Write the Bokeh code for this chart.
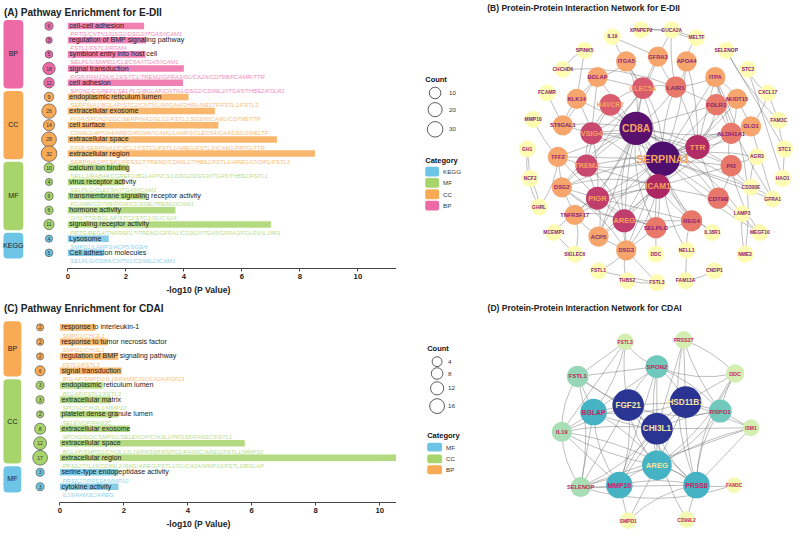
import numpy as np
from bokeh.plotting import figure
from bokeh.models import ColumnDataSource, Range1d, Label, LinearColorMapper, FixedTicker
from bokeh.layouts import row, column
from bokeh.embed import file_html
from bokeh.resources import INLINE
from bokeh.core.properties import value

FONT = "Liberation Sans"
S = 0.988          # reference px -> page px
SY = 531 / 539     # vertical scale

# ================= Panel A data (E-DII enrichment) =================
a_terms = ["cell-cell adhesion", "regulation of BMP signaling pathway", "symbiont entry into host cell",
           "signal transduction", "cell adhesion",
           "endoplasmic reticulum lumen", "extracellular exosome", "cell surface",
           "extracellular space", "extracellular region",
           "calcium ion binding", "virus receptor activity", "transmembrane signaling receptor activity",
           "hormone activity", "signaling receptor activity",
           "Lysosome", "Cell adhesion molecules"]
a_cats = ["BP"] * 5 + ["CC"] * 5 + ["MF"] * 5 + ["KEGG"] * 2
a_logp = [2.63, 2.70, 2.68, 4.00, 3.97, 4.16, 5.07, 5.19, 7.21, 8.52,
          2.09, 1.95, 2.72, 3.71, 7.00, 1.41, 1.24]
a_counts = [6, 3, 5, 18, 12, 9, 26, 14, 28, 32, 10, 4, 6, 6, 11, 4, 5]
a_genes = ["PRTG/CNTN1/DSG2/DSG3/ITGA5/ICAM1",
           "FSTL1/FSTL3/RGMA",
           "SELPLG/SMPD1/CLEC5A/ITGA5/ICAM1",
           "PIGR/FAM13A/IL19/STC1/TREM2/GFRA3/GUCA2A/CD79B/FCAMR/TTR",
           "SPON2/CGREF1/SELPLG/BGLAP/CNTN1/DSG2/CD99L2/ITGA5/THBS2/FOLR1",
           "SERPINA1/BGLAP/STC2/CNTN1/APOA4/GHRL/MELTF/FSTL1/FSTL3",
           "PIGR/SPON2/DDC/SERPINA1/GLO1/FSTL1/SGSH/ICAM1/CD79B/TTR",
           "CD99L2/APOA4/AREG/RGMA/ICAM1/LAMP3/CLEC5A/CA4/DSG3/MELTF",
           "PIGR/SERPINA1/CXCL17/STC1/FSTL1/AREG/FSTL3/ICAM1/PRTG/TTR",
           "SERPINA1/PCSK2/PRSS27/TREM2/CD99L2/THBS2/FSTL1/AREG/CNDP1/FSTL3",
           "NELL1/RAB44/CGREF1/BGLAP/NCS1/DSG2/DSG3/ITGA5/THBS2/FSTL1",
           "SELPLG/CLEC5A/ITGA5/ICAM1",
           "FCAMR/CD79B/PIGR/CD300E/TREM2/ICAM1",
           "GH1/TTR/BGLAP/STC2/STC1/GUCA2A",
           "PRTG/REG4/TNFRSF17/TREM2/GFRA1/CD302/ITGA5/GFRA3/FOLR1/IL18R1",
           "SMPD1/LAMP3/ACP5/SGSH",
           "SELPLG/CD8A/CNTN1/CD99L2/ICAM1"]

# ================= Panel C data (CDAI enrichment) =================
c_terms = ["response to interleukin-1", "response to tumor necrosis factor",
           "regulation of BMP signaling pathway", "signal transduction",
           "endoplasmic reticulum lumen", "extracellular matrix", "platelet dense granule lumen",
           "extracellular exosome", "extracellular space", "extracellular region",
           "serine-type endopeptidase activity", "cytokine activity"]
c_cats = ["BP"] * 4 + ["CC"] * 6 + ["MF"] * 2
c_logp = [1.11, 1.50, 1.83, 1.93, 1.34, 1.60, 1.83, 2.17, 5.78, 10.8, 1.83, 1.83]
c_counts = [2, 2, 2, 6, 3, 3, 2, 8, 12, 17, 3, 3]
c_genes = ["SMPD1/CHI3L1", "SMPD1/CHI3L1", "FSTL1/FSTL3",
           "BGLAP/SMPD1/IL19/FAM3C/GUCA2A/FGF21",
           "BGLAP/FSTL1/FSTL3", "SPON2/CHI3L1/MMP10", "SELENOP/FAM3C",
           "SPON2/DDC/SMPD1/SELENOP/CHI3L1/PRSS8/FAM3C/FSTL1",
           "BGLAP/SMPD1/CHI3L1/IL19/PRSS8/RSPO1/FAM3C/AREG/FSTL1/MMP10",
           "PRSS27/IL19/CD99L2/ISM1/AREG/FSTL1/GUCA2A/MMP10/FSTL3/BGLAP",
           "PRSS27/PRSS8/MMP10", "IL19/FAM3C/AREG"]

# ================= Panel B data (E-DII network) =================
b_names = ["XPNPEP2", "GUCA2A", "IL19", "MELTF", "SPINK5", "SELENOP", "GFRA3", "ITGA5", "APOA4",
           "CHCHD6", "STC2", "BGLAP", "ITPA", "CLEC5A", "LAIR1", "FCAMR", "KLK14", "CXCL17",
           "NUDT15", "HAVCR2", "FOLR1", "MMP10", "ST6GAL1", "FAM3C", "GLO1", "CD8A", "VSIG4",
           "ALDH1A1", "TTR", "GH1", "STC1", "TFF2", "SERPINA1", "AGR3", "TREM2", "PI3", "NCF2",
           "HAO1", "DSG2", "ICAM1", "CD300E", "PIGR", "CD79B", "GFRA1", "GHRL", "TNFRSF17",
           "LAMP3", "AREG", "REG4", "SELPLG", "MCEMP1", "IL18R1", "MEGF10", "ACP5", "DSG3",
           "DDC", "NELL1", "NME3", "SIGLEC6", "FSTL1", "THBS2", "FSTL3", "FAM13A", "CNDP1"]
b_x = [647, 678, 618, 703, 590, 733, 664, 632, 693,
       568, 755, 603, 722, 649, 682, 552, 582, 775,
       744, 616, 723, 538, 568, 786, 758, 642, 597,
       738, 704, 532, 792, 563, 669, 764, 592, 738, 535,
       790, 567, 664, 758, 603, 725, 780, 544, 580,
       749, 630, 698, 662, 559, 719, 767, 604, 632,
       662, 693, 752, 580, 604, 633, 663, 692, 721]
b_y = [30, 30, 37, 38, 51, 51, 57, 62, 62,
       70, 70, 78, 78, 89, 88, 94, 100, 94,
       100, 106, 106, 121, 127, 122, 128, 130, 135,
       135, 149, 151, 151, 159, 161, 159, 168, 168, 181,
       181, 190, 189, 190, 201, 201, 202, 210, 218,
       217, 224, 224, 231, 236, 236, 236, 240, 254,
       258, 254, 258, 258, 275, 285, 287, 285, 275]
b_deg = [4, 4, 4, 4, 4, 4, 12, 12, 12,
         4, 4, 12, 12, 17, 15, 4, 12, 4,
         12, 17, 15, 4, 12, 4, 12, 29, 19,
         15, 21.5, 4, 4, 12, 30, 4, 19, 15, 4,
         4, 12, 22, 4, 20, 15, 4, 4, 12,
         4, 20, 15, 15, 4, 4, 4, 12, 12,
         4, 4, 4, 4, 4, 4, 4, 4, 4]
b_edges = [
    ("CD8A", "SERPINA1"), ("CD8A", "ICAM1"), ("CD8A", "TTR"), ("CD8A", "VSIG4"), ("CD8A", "TREM2"),
    ("CD8A", "PIGR"), ("CD8A", "AREG"), ("CD8A", "HAVCR2"), ("CD8A", "CLEC5A"), ("CD8A", "LAIR1"),
    ("CD8A", "FOLR1"), ("CD8A", "SELPLG"), ("CD8A", "CD79B"), ("CD8A", "REG4"), ("CD8A", "ALDH1A1"),
    ("CD8A", "PI3"), ("CD8A", "ITGA5"), ("CD8A", "GFRA3"), ("CD8A", "BGLAP"), ("CD8A", "ST6GAL1"),
    ("CD8A", "TFF2"), ("CD8A", "DSG2"), ("CD8A", "TNFRSF17"), ("CD8A", "ACP5"), ("CD8A", "DSG3"),
    ("CD8A", "KLK14"), ("CD8A", "IL18R1"), ("CD8A", "LAMP3"), ("CD8A", "CD300E"),
    ("SERPINA1", "ICAM1"), ("SERPINA1", "TTR"), ("SERPINA1", "VSIG4"), ("SERPINA1", "TREM2"),
    ("SERPINA1", "PIGR"), ("SERPINA1", "AREG"), ("SERPINA1", "HAVCR2"), ("SERPINA1", "CLEC5A"),
    ("SERPINA1", "LAIR1"), ("SERPINA1", "FOLR1"), ("SERPINA1", "SELPLG"), ("SERPINA1", "CD79B"),
    ("SERPINA1", "REG4"), ("SERPINA1", "ALDH1A1"), ("SERPINA1", "PI3"), ("SERPINA1", "APOA4"),
    ("SERPINA1", "ITPA"), ("SERPINA1", "NUDT15"), ("SERPINA1", "GLO1"), ("SERPINA1", "DSG3"),
    ("SERPINA1", "DSG2"), ("SERPINA1", "TFF2"), ("SERPINA1", "ACP5"), ("SERPINA1", "AGR3"),
    ("SERPINA1", "CD300E"), ("SERPINA1", "MEGF10"), ("SERPINA1", "GFRA1"), ("SERPINA1", "NELL1"),
    ("ICAM1", "TTR"), ("ICAM1", "PIGR"), ("ICAM1", "AREG"), ("ICAM1", "TREM2"), ("ICAM1", "VSIG4"),
    ("ICAM1", "SELPLG"), ("ICAM1", "CD79B"), ("ICAM1", "REG4"), ("ICAM1", "PI3"), ("ICAM1", "ITGA5"),
    ("ICAM1", "DSG3"), ("ICAM1", "ACP5"), ("ICAM1", "TNFRSF17"), ("ICAM1", "ALDH1A1"), ("ICAM1", "DSG2"),
    ("TTR", "PIGR"), ("TTR", "AREG"), ("TTR", "VSIG4"), ("TTR", "TREM2"), ("TTR", "FOLR1"),
    ("TTR", "ALDH1A1"), ("TTR", "PI3"), ("TTR", "APOA4"), ("TTR", "ITPA"), ("TTR", "GLO1"),
    ("TTR", "NUDT15"), ("TTR", "CD79B"), ("TTR", "LAIR1"),
    ("AREG", "PIGR"), ("AREG", "TREM2"), ("AREG", "SELPLG"), ("AREG", "REG4"), ("AREG", "DSG3"),
    ("AREG", "ACP5"), ("AREG", "TNFRSF17"), ("AREG", "DSG2"),
    ("PIGR", "TREM2"), ("PIGR", "VSIG4"), ("PIGR", "DSG2"), ("PIGR", "TNFRSF17"), ("PIGR", "ACP5"),
    ("PIGR", "REG4"), ("PIGR", "SELPLG"), ("PIGR", "TFF2"),
    ("VSIG4", "TREM2"), ("VSIG4", "HAVCR2"), ("VSIG4", "ST6GAL1"), ("VSIG4", "KLK14"),
    ("VSIG4", "BGLAP"), ("VSIG4", "CLEC5A"),
    ("TREM2", "HAVCR2"), ("TREM2", "TFF2"), ("TREM2", "DSG2"), ("TREM2", "CLEC5A"),
    ("CLEC5A", "HAVCR2"), ("CLEC5A", "LAIR1"), ("CLEC5A", "ITGA5"), ("CLEC5A", "GFRA3"), ("CLEC5A", "BGLAP"),
    ("LAIR1", "APOA4"), ("LAIR1", "GFRA3"), ("LAIR1", "FOLR1"), ("LAIR1", "ITPA"),
    ("FOLR1", "ALDH1A1"), ("FOLR1", "ITPA"), ("FOLR1", "NUDT15"),
    ("ALDH1A1", "GLO1"), ("ALDH1A1", "NUDT15"), ("ALDH1A1", "ITPA"), ("ALDH1A1", "PI3"),
    ("PI3", "CD79B"), ("PI3", "AGR3"), ("PI3", "CD300E"),
    ("XPNPEP2", "GUCA2A"), ("GUCA2A", "MELTF"), ("XPNPEP2", "MELTF"), ("IL19", "GFRA3"), ("IL19", "ITGA5"),
    ("SPINK5", "KLK14"), ("SPINK5", "CHCHD6"), ("CHCHD6", "LAIR1"), ("FCAMR", "ST6GAL1"), ("MMP10", "TFF2"),
    ("GH1", "NCF2"), ("GH1", "GHRL"), ("NCF2", "GHRL"), ("SELENOP", "STC1"), ("SELENOP", "FAM3C"),
    ("STC2", "HAO1"), ("STC2", "CXCL17"), ("CXCL17", "GLO1"), ("CXCL17", "FAM3C"), ("FAM3C", "STC1"),
    ("STC1", "HAO1"), ("AGR3", "CD300E"), ("CD300E", "GFRA1"), ("GFRA1", "GLO1"), ("LAMP3", "NME3"),
    ("MEGF10", "CD79B"), ("IL18R1", "REG4"), ("NELL1", "REG4"), ("NELL1", "FAM13A"), ("FAM13A", "CNDP1"),
    ("DDC", "SELPLG"), ("DSG3", "THBS2"), ("DSG3", "FSTL1"), ("FSTL1", "FSTL3"), ("THBS2", "FSTL3"),
    ("FSTL3", "DSG3"), ("SIGLEC6", "TNFRSF17"), ("MCEMP1", "TNFRSF17"), ("SIGLEC6", "MCEMP1"),
    ("GUCA2A", "LAIR1"), ("GUCA2A", "GFRA3"), ("MELTF", "APOA4"), ("ITPA", "NUDT15"), ("NUDT15", "GLO1"),
    ("ITPA", "GFRA1"), ("KLK14", "BGLAP"), ("BGLAP", "ITGA5"), ("DSG2", "DSG3"), ("DSG2", "TNFRSF17"),
    ("TNFRSF17", "ACP5"), ("ACP5", "DSG3"), ("NME3", "ITPA"), ("MEGF10", "PI3"), ("BGLAP", "ST6GAL1"),
    ("KLK14", "ST6GAL1"), ("TFF2", "DSG2"), ("GHRL", "TFF2"), ("REG4", "SELPLG"), ("DSG3", "SELPLG"),
]

# ================= Panel D data (CDAI network) =================
d_names = ["FSTL3", "PRSS27", "SPON2", "FSTL1", "DDC", "FGF21", "HSD11B1", "BGLAP", "RSPO1",
           "CHI3L1", "IL19", "ISM1", "AREG", "SELENOP", "MMP10", "PRSS8", "FAM3C", "SMPD1", "CD99L2"]
d_x = [631, 690, 663, 583, 742, 634, 692, 599, 727, 663, 567, 758, 663, 586, 625, 703, 741, 634, 693]
d_y = [347, 345, 372, 382, 379, 411, 408, 418, 417, 435, 438, 434, 472, 494, 492, 492, 492, 528, 527]
d_deg = [5.5, 5.5, 8.5, 7.5, 5.5, 16, 16, 10, 8.5, 16, 7, 5.5, 10, 7, 10, 10, 4, 4, 4]
d_count = [4, 4.5, 8, 7, 5, 16, 16, 11, 8, 16, 6, 4, 14, 6, 11, 11, 3.5, 4, 4]
d_edges = [
    ("FSTL3", "FSTL1"), ("FSTL3", "SPON2"), ("FSTL3", "BGLAP"), ("FSTL3", "IL19"), ("FSTL3", "FGF21"),
    ("PRSS27", "HSD11B1"), ("PRSS27", "PRSS8"), ("PRSS27", "DDC"), ("PRSS27", "CHI3L1"), ("PRSS27", "RSPO1"),
    ("SPON2", "FSTL1"), ("SPON2", "FGF21"), ("SPON2", "HSD11B1"), ("SPON2", "CHI3L1"), ("SPON2", "AREG"),
    ("SPON2", "BGLAP"), ("SPON2", "DDC"), ("SPON2", "RSPO1"), ("SPON2", "MMP10"),
    ("FSTL1", "FGF21"), ("FSTL1", "BGLAP"), ("FSTL1", "IL19"), ("FSTL1", "SELENOP"), ("FSTL1", "CHI3L1"),
    ("DDC", "RSPO1"), ("DDC", "HSD11B1"), ("DDC", "PRSS8"), ("DDC", "AREG"),
    ("FGF21", "HSD11B1"), ("FGF21", "CHI3L1"), ("FGF21", "BGLAP"), ("FGF21", "AREG"), ("FGF21", "MMP10"),
    ("FGF21", "SELENOP"), ("FGF21", "PRSS8"), ("FGF21", "IL19"), ("FGF21", "RSPO1"),
    ("HSD11B1", "CHI3L1"), ("HSD11B1", "AREG"), ("HSD11B1", "PRSS8"), ("HSD11B1", "RSPO1"),
    ("HSD11B1", "MMP10"), ("HSD11B1", "BGLAP"), ("HSD11B1", "ISM1"),
    ("BGLAP", "CHI3L1"), ("BGLAP", "IL19"), ("BGLAP", "MMP10"), ("BGLAP", "AREG"), ("BGLAP", "SELENOP"),
    ("RSPO1", "CHI3L1"), ("RSPO1", "ISM1"), ("RSPO1", "PRSS8"), ("RSPO1", "AREG"),
    ("CHI3L1", "AREG"), ("CHI3L1", "IL19"), ("CHI3L1", "MMP10"), ("CHI3L1", "PRSS8"), ("CHI3L1", "SELENOP"),
    ("CHI3L1", "ISM1"),
    ("IL19", "AREG"), ("IL19", "MMP10"), ("IL19", "SELENOP"), ("IL19", "PRSS8"),
    ("ISM1", "PRSS8"), ("ISM1", "AREG"), ("ISM1", "SELENOP"),
    ("AREG", "MMP10"), ("AREG", "PRSS8"), ("AREG", "SELENOP"),
    ("SELENOP", "MMP10"), ("SELENOP", "PRSS8"), ("SELENOP", "FAM3C"),
    ("MMP10", "PRSS8"), ("MMP10", "SMPD1"),
    ("PRSS8", "FAM3C"), ("PRSS8", "CD99L2"), ("PRSS8", "SMPD1"),
    ("CD99L2", "CHI3L1"), ("SMPD1", "AREG"),
]

# legends
b_legend_counts = [10, 20, 30]
d_legend_counts = [4, 8, 12, 16]
a_legend_cats = ["KEGG", "MF", "CC", "BP"]
c_legend_cats = ["MF", "CC", "BP"]

A_COLORS = {"BP": "#EE6AA6", "CC": "#F8AA55", "MF": "#A7D46B", "KEGG": "#6EC4E4"}
C_COLORS = {"BP": "#F8AA55", "CC": "#A7D46B", "MF": "#6EC4E4"}


def fpx(v):
    return f"{v * S:.2f}px"


def hex2rgb(h):
    return [int(h[i:i + 2], 16) for i in (1, 3, 5)]


def value_palette(stop_vals, stop_cols, low, high, n=256):
    arr = np.array([hex2rgb(s) for s in stop_cols], float)
    out = []
    for v in np.linspace(low, high, n):
        rgb = [int(round(np.interp(v, stop_vals, arr[:, k]))) for k in range(3)]
        out.append("#%02x%02x%02x" % tuple(rgb))
    return out


def enrichment(title, terms, cats, logp, counts, genes, colors, W, H,
               zero_px, unit_px, row0_px, step_px, top_px, axis_px, title_px,
               box_px, circ_px, size_a, size_b):
    n = len(terms)
    x0 = (0 - zero_px) / unit_px
    x1 = (400 - zero_px) / unit_px
    yt = (top_px - row0_px) / step_px
    yb = (axis_px - row0_px) / step_px
    frame_h = int(round((axis_px - top_px) * SY))
    p = figure(width=W, height=H, x_range=Range1d(x0, x1), y_range=Range1d(yb, yt),
               output_backend="svg", toolbar_location=None, y_axis_location=None,
               min_border_left=0, min_border_right=0, min_border_top=0,
               min_border_bottom=H - frame_h)
    p.outline_line_color = None
    p.xgrid.visible = False
    p.ygrid.visible = False

    rows = np.arange(n)
    cnt = np.array(counts, float)
    src = ColumnDataSource(dict(
        y=rows, gy=rows + 0.57, logp=logp, term=terms, genes=genes,
        col=[colors[c] for c in cats], cnt=[str(c) for c in counts],
        size=list((size_a + size_b * np.sqrt(cnt)) * S),
        cx=[(circ_px - zero_px) / unit_px] * n))

    groups = []
    for i, c in enumerate(cats):
        if groups and groups[-1][0] == c:
            groups[-1][2] = i
        else:
            groups.append([c, i, i])
    bl = (box_px[0] - zero_px) / unit_px
    br = (box_px[1] - zero_px) / unit_px
    gsrc = ColumnDataSource(dict(
        name=[g[0] for g in groups], top=[g[1] - 0.42 for g in groups],
        bottom=[g[2] + 0.4 for g in groups], mid=[(g[1] + g[2]) / 2 for g in groups],
        col=[colors[g[0]] for g in groups], xm=[(bl + br) / 2] * len(groups)))
    p.quad(left=bl, right=br, top="top", bottom="bottom", fill_color="col", line_color=None,
           border_radius=4, source=gsrc)
    p.text(x="xm", y="mid", text="name", text_font=value(FONT), text_font_size=fpx(7.2),
           text_color="#222222", text_align="center", text_baseline="middle", source=gsrc)

    p.hbar(y="y", left=0, right="logp", height=0.46, fill_color="col", fill_alpha=0.85,
           line_color=None, source=src)
    p.scatter(x="cx", y="y", size="size", fill_color="col", line_color="#555555",
              line_width=0.7, source=src)
    p.text(x="cx", y="y", text="cnt", text_font=value(FONT), text_font_size=fpx(5.2),
           text_color="#333333", text_align="center", text_baseline="middle", source=src)
    p.text(x=0, y="y", text="term", x_offset=1.5, text_font=value(FONT),
           text_font_size=fpx(7.2), text_color="#1a1a1a", text_baseline="middle", source=src)
    p.text(x=0, y="gy", text="genes", x_offset=2.5, text_font=value(FONT),
           text_font_style="italic", text_font_size=fpx(6.0), text_color="col", text_alpha=0.8,
           text_baseline="middle", source=src)

    ax = p.xaxis[0]
    ax.ticker = FixedTicker(ticks=[0, 2, 4, 6, 8, 10])
    ax.bounds = (0, x1)
    ax.axis_label = "-log10 (P Value)"
    ax.axis_line_color = "#444444"
    ax.axis_line_width = 1.2
    ax.major_tick_line_color = "#444444"
    ax.major_tick_out = 3
    ax.major_tick_in = 0
    ax.minor_tick_line_color = None
    ax.major_label_text_font = FONT
    ax.major_label_text_font_style = "bold"
    ax.major_label_text_font_size = fpx(7.8)
    ax.major_label_text_color = "#222222"
    ax.major_label_standoff = 2
    ax.axis_label_text_font = FONT
    ax.axis_label_text_font_style = "bold"
    ax.axis_label_text_font_size = fpx(8.7)
    ax.axis_label_text_color = "#222222"
    ax.axis_label_standoff = 3

    p.add_layout(Label(x=(3.5 - zero_px) / unit_px, y=(title_px - row0_px) / step_px, text=title,
                       text_font=FONT, text_font_style="bold", text_font_size=fpx(10.2),
                       text_color="#222222", text_baseline="middle", text_align="left"))
    return p


def network(title, title_xy, names, xs, ys, deg, sizes, fonts, tcols, edges, palette, low, high,
            W, H, xr, yr, leg_counts, leg_sizes, leg_pos, leg_cats, cat_colors, cat_pos):
    p = figure(width=W, height=H, x_range=Range1d(*xr), y_range=Range1d(*yr),
               output_backend="svg", toolbar_location=None, x_axis_location=None,
               y_axis_location=None, min_border=0)
    p.outline_line_color = None
    p.xgrid.visible = False
    p.ygrid.visible = False
    idx = {n: i for i, n in enumerate(names)}
    ex0, ey0, ex1, ey1, ecx, ecy = [], [], [], [], [], []
    bends = (0.0, 0.16, -0.12, 0.0, 0.08)
    for k, (a, b) in enumerate(edges):
        xa, ya, xb, yb = xs[idx[a]], ys[idx[a]], xs[idx[b]], ys[idx[b]]
        c = bends[k % len(bends)]
        ex0.append(xa); ey0.append(ya); ex1.append(xb); ey1.append(yb)
        ecx.append((xa + xb) / 2 - c * (yb - ya))
        ecy.append((ya + yb) / 2 + c * (xb - xa))
    p.quadratic(x0=ex0, y0=ey0, x1=ex1, y1=ey1, cx=ecx, cy=ecy, line_color="#6e6e6e",
                line_alpha=0.5, line_width=0.9)
    mapper = LinearColorMapper(palette=palette, low=low, high=high)
    nsrc = ColumnDataSource(dict(x=xs, y=ys, name=names, deg=deg, size=sizes, font=fonts, tcol=tcols))
    p.scatter(x="x", y="y", size="size", fill_color={"field": "deg", "transform": mapper},
              line_color=None, source=nsrc)
    p.text(x="x", y="y", text="name", text_font=value(FONT), text_font_style="bold",
           text_font_size="font", text_color="tcol", text_align="center", text_baseline="middle",
           source=nsrc)

    lx, ly, cy_list, tx = leg_pos
    p.text(x=[lx], y=[ly], text=["Count"], text_font=value(FONT), text_font_style="bold",
           text_font_size=fpx(7.6), text_color="#111111", text_baseline="middle")
    p.scatter(x=[lx + 10] * len(leg_counts), y=cy_list, size=leg_sizes, fill_color=None,
              line_color="#333333", line_width=0.8)
    p.text(x=[tx] * len(leg_counts), y=cy_list, text=[str(c) for c in leg_counts],
           text_font=value(FONT), text_font_size=fpx(6.3), text_color="#333333",
           text_baseline="middle")
    cx0, cyh, cys, cw, ch = cat_pos
    p.text(x=[cx0], y=[cyh], text=["Category"], text_font=value(FONT), text_font_style="bold",
           text_font_size=fpx(7.6), text_color="#111111", text_baseline="middle")
    p.quad(left=cx0, right=cx0 + cw, top=[y - ch / 2 for y in cys], bottom=[y + ch / 2 for y in cys],
           fill_color=[cat_colors[c] for c in leg_cats], line_color=None, border_radius=2)
    p.text(x=[cx0 + cw + 4] * len(leg_cats), y=cys, text=leg_cats, text_font=value(FONT),
           text_font_size=fpx(6.3), text_color="#333333", text_baseline="middle")

    p.add_layout(Label(x=title_xy[0], y=title_xy[1], text=title, text_font=FONT,
                       text_font_style="bold", text_font_size=fpx(8.6), text_color="#222222",
                       text_baseline="middle", text_align="center"))
    return p


W_L, W_R, H_T, H_B = 396, 399, 297, 234

pA = enrichment("(A) Pathway Enrichment for E-DII", a_terms, a_cats, a_logp, a_counts, a_genes,
                A_COLORS, W_L, H_T, zero_px=68, unit_px=29.3, row0_px=26, step_px=14.44,
                top_px=0, axis_px=273, title_px=12, box_px=(3, 23), circ_px=49,
                size_a=2.5, size_b=2.37)

pC = enrichment("(C) Pathway Enrichment for CDAI", c_terms, c_cats, c_logp, c_counts, c_genes,
                C_COLORS, W_L, H_B, zero_px=60, unit_px=32.3, row0_px=332.3, step_px=14.7,
                top_px=302, axis_px=510, title_px=313, box_px=(3, 21), circ_px=40,
                size_a=3.2, size_b=2.85)

bd = np.array(b_deg, float)
b_sizes = list(np.interp(bd, [4, 12, 15, 19, 22, 30], [17, 20.5, 21.5, 22.5, 25, 35]) * S)
b_fonts = [fpx(v) for v in np.interp(bd, [4, 12, 15, 17, 19, 22, 30], [5.0, 5.8, 6.2, 6.8, 7.4, 8.3, 10.8])]
b_tcols = ["#F6A35E" if d >= 17 else "#8A2275" for d in b_deg]
b_pal = value_palette([4, 12, 15, 17, 19.5, 22, 30],
                      ["#FEFCB2", "#F6A46C", "#E7786A", "#D85D6E", "#C4436F", "#AE2765", "#4E0E6E"], 4, 30)
pB = network("(B) Protein-Protein Interaction Network for E-DII", (589, 8), b_names, b_x, b_y, b_deg,
             b_sizes, b_fonts, b_tcols, b_edges, b_pal, 4, 30, W_R, H_T, (400, 803), (302, 0),
             b_legend_counts, [11.7 * S, 14.3 * S, 15.7 * S], (429, 80, [94, 111, 131], 453),
             a_legend_cats, A_COLORS, (429, 163, [174, 185.5, 197, 208.5], 14, 10))

dc = np.array(d_count, float)
d_sizes = list((2 + 7.5 * np.sqrt(dc)) * S)
d_fonts = [fpx(v) for v in np.interp(dc, [3.5, 5, 8, 11, 14, 16], [4.8, 5.6, 6.3, 6.9, 7.8, 8.3])]
d_tcols = ["#F3E6A0" if c >= 14 else "#C81D5E" for c in d_count]
d_pal = value_palette([4, 5.5, 7, 8.5, 10, 13, 16],
                      ["#F4F9B4", "#D4EEB2", "#A8DDB5", "#72C8BD", "#45B4C3", "#2F74AE", "#2A3593"], 4, 16)
pD = network("(D) Protein-Protein Interaction Network for CDAI", (590, 313), d_names, d_x, d_y, d_deg,
             d_sizes, d_fonts, d_tcols, d_edges, d_pal, 4, 16, W_R, H_B, (400, 803), (539, 302),
             d_legend_counts, [10 * S, 11.7 * S, 13.3 * S, 15 * S], (431, 354, [367, 379, 394, 412], 452),
             c_legend_cats, C_COLORS, (431, 442, [453.5, 465.5, 476.5], 15, 9))

layout = row(column(pA, pC), column(pB, pD))
open("out.html", "w").write(file_html(layout, INLINE))
